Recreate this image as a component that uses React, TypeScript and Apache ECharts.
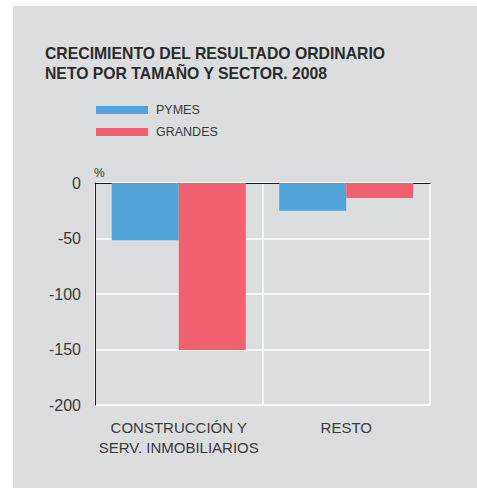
import React, { useEffect, useRef } from "react";
import * as echarts from "echarts";

const categories = ["CONSTRUCCIÓN Y\nSERV. INMOBILIARIOS", "RESTO"];
const pymes = [-51.5, -25];
const grandes = [-150.5, -13.5];
const seriesNames = ["PYMES", "GRANDES"];
const titleLines = ["CRECIMIENTO DEL RESULTADO ORDINARIO", "NETO POR TAMAÑO Y SECTOR. 2008"];

export default function App() {
  const ref = useRef<HTMLDivElement>(null);
  useEffect(() => {
    const chart = echarts.init(ref.current!, null, { renderer: "svg" });
    const font = "'Liberation Sans', Arial, sans-serif";
    const textColor = "#3a3a3a";
    chart.setOption({
      animation: false,
      textStyle: { fontFamily: font },
      graphic: [
        { type: "rect", z: -10, shape: { x: 13, y: 6, width: 470, height: 490 }, style: { fill: "#dcdddf" } },
        {
          type: "text", left: 45, top: 43,
          style: { text: titleLines.join("\n"), font: `bold 15.75px ${font}`, lineHeight: 20, fill: "#2b2b2b" },
        },
        { type: "text", left: 94, top: 167, style: { text: "%", font: `12px ${font}`, fill: textColor } },
      ],
      legend: {
        orient: "vertical", left: 96, top: 103.5, padding: 0, itemWidth: 52, itemHeight: 8, itemGap: 9,
        icon: "rect",
        textStyle: { fontSize: 12.5, color: textColor, padding: [0, 0, 0, 3] },
        data: seriesNames,
      },
      grid: { left: 95, top: 183, width: 335, height: 222, containLabel: false },
      xAxis: [
        {
          type: "category", data: categories, position: "bottom",
          axisLine: { show: false, onZero: false }, axisTick: { show: false },
          splitLine: { show: true, interval: 0, lineStyle: { color: "#ffffff", width: 1.5 } },
          axisLabel: { fontSize: 15, color: textColor, lineHeight: 20, margin: 12, interval: 0 },
        },
        {
          type: "category", data: categories, position: "top",
          axisLine: { show: true, onZero: false, lineStyle: { color: "#1a1a1a", width: 1 } },
          axisTick: { show: false }, axisLabel: { show: false }, splitLine: { show: false },
        },
      ],
      yAxis: {
        type: "value", min: -200, max: 0, interval: 50,
        axisLine: { show: true, lineStyle: { color: "#1a1a1a", width: 1 } },
        axisTick: { show: false },
        splitLine: { show: true, lineStyle: { color: "#ffffff", width: 1.5 } },
        axisLabel: { fontSize: 16, color: textColor, margin: 14 },
      },
      series: [
        { name: seriesNames[0], type: "bar", data: pymes, barWidth: "40%", barGap: "0%", itemStyle: { color: "#51a3d9" } },
        { name: seriesNames[1], type: "bar", data: grandes, barWidth: "40%", barGap: "0%", itemStyle: { color: "#f06070" } },
      ],
    });
    return () => chart.dispose();
  }, []);
  return <div ref={ref} style={{ position: "absolute", left: 0, top: 0, width: 477, height: 488 }} />;
}
